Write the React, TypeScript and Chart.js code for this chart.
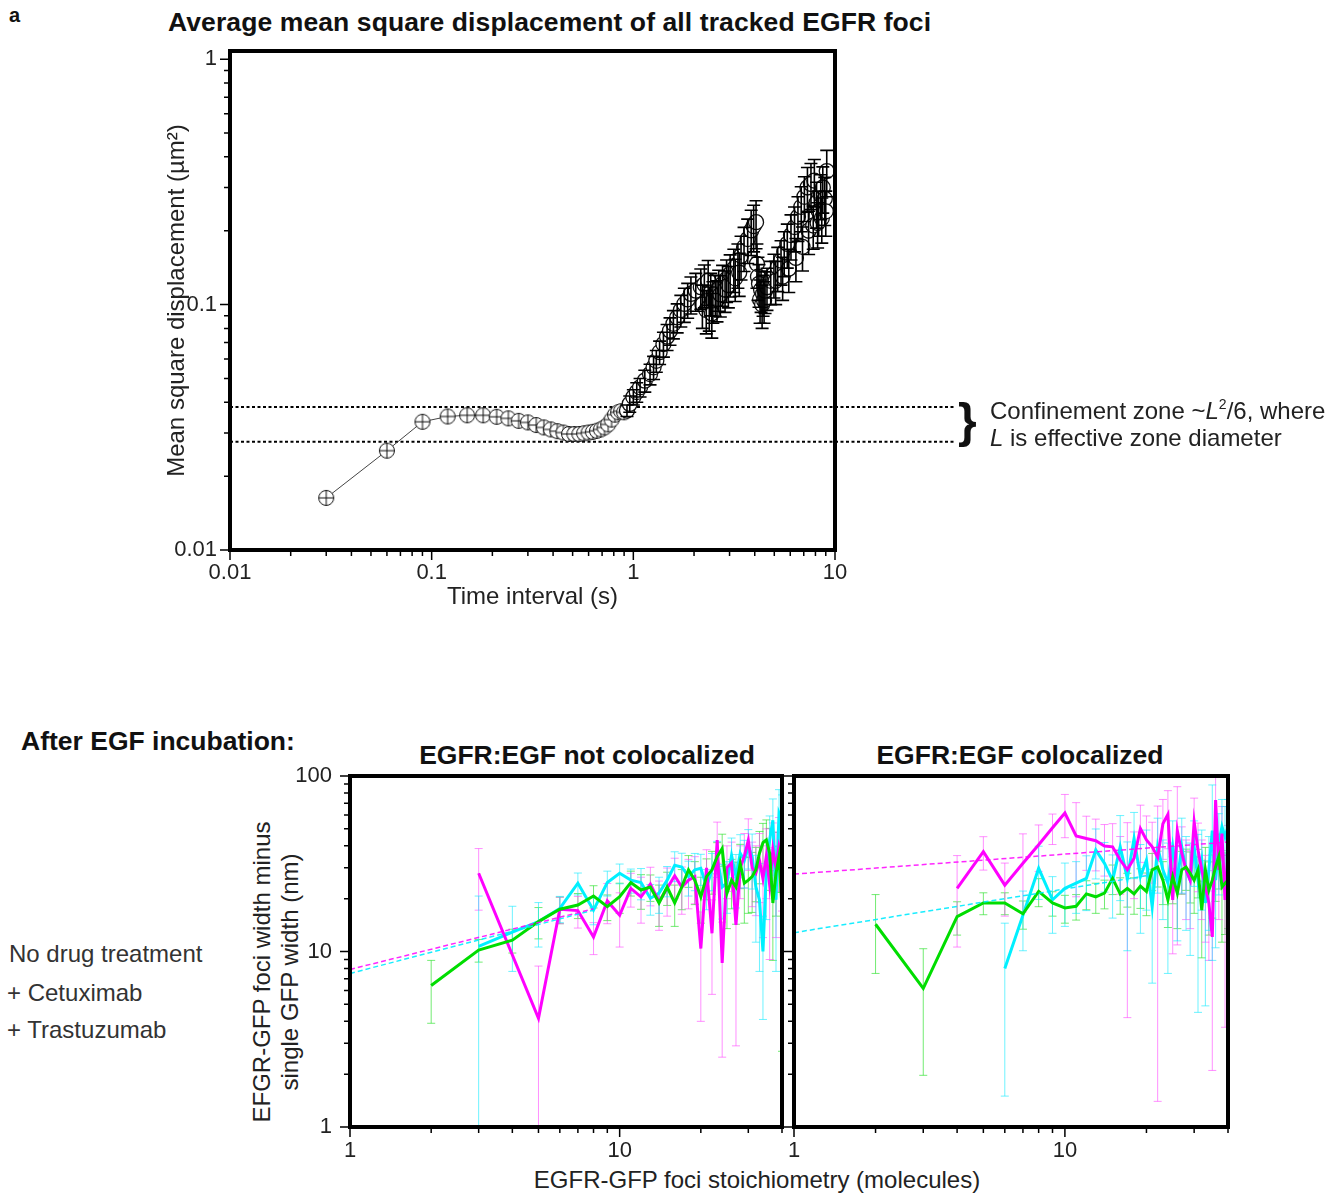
import React, { useEffect, useRef } from 'react';
import { Chart, registerables } from 'chart.js';

Chart.register(...registerables);

const FONT = "'Liberation Sans', Arial, Helvetica, sans-serif";
const TEXT = '#222';

// ---------------- Top panel: mean square displacement ----------------
const TOP_TIME = [
  0.03, 0.06, 0.09, 0.12, 0.15, 0.18, 0.21, 0.24, 0.27, 0.30,
  0.33, 0.36, 0.39, 0.42, 0.45, 0.48, 0.51, 0.54, 0.57, 0.60,
  0.63, 0.66, 0.69, 0.72, 0.75, 0.78, 0.81, 0.84, 0.87, 0.90,
  0.93, 0.96, 1.00, 1.04, 1.08, 1.14, 1.21, 1.26, 1.30, 1.35,
  1.41, 1.47, 1.52, 1.58, 1.65, 1.72, 1.79, 1.86, 1.93, 2.04,
  2.16, 2.20, 2.25, 2.30, 2.35, 2.38, 2.42, 2.45, 2.48, 2.55,
  2.60, 2.65, 2.70, 2.77, 2.85, 2.90, 2.96, 3.02, 3.15, 3.20,
  3.30, 3.35, 3.42, 3.54, 3.69, 3.84, 3.95, 4.06, 4.10, 4.15,
  4.20, 4.25, 4.30, 4.35, 4.40, 4.45, 4.50, 4.60, 4.80, 4.98,
  5.08, 5.20, 5.40, 5.50, 5.60, 5.80, 5.90, 6.05, 6.30, 6.40,
  6.55, 6.80, 6.90, 7.05, 7.30, 7.40, 7.60, 7.80, 7.90, 8.10,
  8.20, 8.30, 8.50, 8.60, 8.70, 8.90, 9.00, 9.10,
];
const TOP_MSD = [
  0.0163, 0.0254, 0.0333, 0.0350, 0.0354, 0.0354, 0.0349, 0.0344, 0.0336, 0.0331,
  0.0323, 0.0316, 0.0310, 0.0305, 0.0301, 0.0297, 0.0297, 0.0297, 0.0299, 0.0301,
  0.0303, 0.0306, 0.0310, 0.0316, 0.0325, 0.0340, 0.0356, 0.0364, 0.0368, 0.0364,
  0.0370, 0.0394, 0.0420, 0.0440, 0.0460, 0.0490, 0.0521, 0.0555, 0.0590, 0.0640,
  0.0691, 0.0740, 0.0783, 0.0835, 0.0887, 0.0950, 0.1006, 0.1050, 0.1106, 0.1140,
  0.1177, 0.1000, 0.1210, 0.0950, 0.1253, 0.0980, 0.1120, 0.0920, 0.1040, 0.1106,
  0.1050, 0.1160, 0.1100, 0.1215, 0.1150, 0.1270, 0.1200, 0.1334, 0.1400, 0.1280,
  0.1466, 0.1350, 0.1580, 0.1714, 0.1850, 0.2005, 0.2090, 0.2168, 0.1466, 0.1300,
  0.1215, 0.1050, 0.1150, 0.1000, 0.1106, 0.1040, 0.1140, 0.1177, 0.1250, 0.1334,
  0.1250, 0.1420, 0.1510, 0.1300, 0.1640, 0.1768, 0.1400, 0.1920, 0.2070, 0.1550,
  0.2280, 0.2500, 0.1720, 0.2750, 0.3000, 0.2000, 0.3100, 0.2100, 0.3200, 0.2600,
  0.2150, 0.2400, 0.2800, 0.2250, 0.3000, 0.2700, 0.2400, 0.3500,
];
const TOP_ERR = [
  0, 0, 0, 0, 0, 0, 0, 0, 0, 0,
  0, 0, 0, 0, 0, 0, 0, 0, 0, 0,
  0, 0, 0, 0, 0, 0, 0, 0, 0, 0,
  0.002, 0.003, 0.003, 0.004, 0.004, 0.005, 0.005, 0.006, 0.006, 0.007,
  0.008, 0.009, 0.010, 0.011, 0.012, 0.014, 0.016, 0.017, 0.019, 0.020,
  0.022, 0.020, 0.024, 0.019, 0.026, 0.020, 0.022, 0.019, 0.020, 0.021,
  0.020, 0.022, 0.021, 0.023, 0.022, 0.025, 0.023, 0.026, 0.028, 0.025,
  0.030, 0.027, 0.032, 0.035, 0.038, 0.042, 0.045, 0.048, 0.030, 0.026,
  0.024, 0.021, 0.022, 0.020, 0.021, 0.020, 0.022, 0.023, 0.025, 0.027,
  0.025, 0.029, 0.031, 0.026, 0.034, 0.036, 0.028, 0.040, 0.043, 0.031,
  0.047, 0.052, 0.035, 0.057, 0.062, 0.040, 0.066, 0.042, 0.070, 0.055,
  0.045, 0.050, 0.058, 0.047, 0.064, 0.060, 0.050, 0.075,
];
const CONFINE_UPPER = 0.0383;
const CONFINE_LOWER = 0.0276;

const TOP_X_TICKS = [
  0.01, 0.02, 0.03, 0.04, 0.05, 0.06, 0.07, 0.08, 0.09,
  0.1, 0.2, 0.3, 0.4, 0.5, 0.6, 0.7, 0.8, 0.9,
  1, 2, 3, 4, 5, 6, 7, 8, 9, 10,
];
const TOP_X_LABEL_VALUES = [0.01, 0.1, 1, 10];
const TOP_X_LABELS = ['0.01', '0.1', '1', '10'];
const TOP_Y_TICKS = [
  0.01, 0.02, 0.03, 0.04, 0.05, 0.06, 0.07, 0.08, 0.09,
  0.1, 0.2, 0.3, 0.4, 0.5, 0.6, 0.7, 0.8, 0.9, 1,
];
const TOP_Y_LABEL_VALUES = [0.01, 0.1, 1];
const TOP_Y_LABELS = ['0.01', '0.1', '1'];

// ---------------- Bottom panels: foci width vs stoichiometry ----------------
const SERIES_NAMES = ['No drug treatment', '+ Cetuximab', '+ Trastuzumab'];
const STOICH = [
  1, 2, 3, 4, 5, 6, 7, 8, 9, 10, 11, 12, 13, 14, 15, 16, 17, 18, 19, 20,
  21, 22, 23, 24, 25, 26, 27, 28, 29, 30, 31, 32, 33, 34, 35, 36, 37, 38, 39, 40,
];

// EGFR:EGF not colocalized
const NOCOLOC_NODRUG = [
  null, 6.4, 10.2, 11.6, 14.8, 17.4, 18.4, 20.7, 18.0, 20.5,
  24.7, 22.4, 23.3, 18.9, 23.3, 18.9, 23.3, 29.2, 25.5, 20.5,
  26.7, 29.2, 34.7, 38.6, 21.5, 25.5, 23.3, 31.8, 24.5, 25.5,
  26.7, 29.2, 36.3, 41.7, 43.2, 36.3, 18.9, 27.9, 34.7, 17.7,
];
const NOCOLOC_NODRUG_ERR = [
  null, 2.5, 1.5, 1.8, 3, 3, 3, 3, 3, 4,
  4, 5, 4, 5, 5, 5, 6, 6, 7, 6,
  7, 8, 7, 8, 8, 8, 9, 9, 10, 9,
  10, 10, 12, 12, 13, 14, 10, 12, 13, 15,
];
const NOCOLOC_CETUX = [
  null, null, 27.9, null, 4.16, 17.4, 17.1, 12.1, 19.4, 16.1,
  22.9, 20.5, 24.2, 19.2, 22.9, 27.0, 23.3, 25.5, 26.7, 10.4,
  30.0, 12.7, 43.2, 8.6, 30.0, 32.0, 14.2, 30.0, 35.0, 43.0,
  30.0, 28.0, 33.0, 26.0, 35.0, 24.0, 38.0, 30.0, 40.0, 35.0,
];
const NOCOLOC_CETUX_ERR = [
  null, null, 10.7, null, 4.1, 3, 3.5, 2.5, 5, 5.5,
  5, 6, 6, 6, 7, 7, 7, 8, 8, 6.4,
  8, 7, 11.4, 6.1, 10, 10, 11.3, 10, 12, 14,
  12, 12, 14, 14, 15, 15, 16, 18, 18, 18,
];
const NOCOLOC_TRAST = [
  null, null, 10.7, 12.9, 14.8, 17.6, 24.5, 17.2, 24.7, 27.9,
  25.5, 24.7, 20.1, 21.5, 25.5, 31.0, 30.3, 26.7, 29.2, 29.8,
  23.3, 29.2, 34.4, 23.3, 24.5, 35.3, 26.7, 36.3, 33.0, 39.5,
  34.7, 23.3, 19.7, 10.0, 29.2, 43.2, 56.0, 19.7, 61.6, 56.0,
];
const NOCOLOC_TRAST_ERR = [
  null, null, 10, 5.2, 4.2, 3, 3.5, 3, 4, 3.6,
  4, 5, 4, 5, 5, 6, 6, 6, 7, 6,
  6, 7, 8, 8, 8, 9, 9, 10, 10, 10,
  12, 12, 12, 5.9, 14, 16, 18, 12, 22, 22,
];
const NOCOLOC_FIT_X = [1, 8];
const NOCOLOC_FIT_CETUX = [7.9, 17.5];
const NOCOLOC_FIT_TRAST = [7.5, 17.2];

// EGFR:EGF colocalized
const COLOC_NODRUG = [
  null, 14.3, 6.17, 15.8, 18.9, 18.9, 16.4, 22.0, 18.9, 17.7,
  18.1, 21.3, 20.5, 21.5, 26.1, 21.3, 22.9, 21.3, 23.6, 22.0,
  29.2, 30.3, 25.5, 19.7, 26.7, 21.5, 29.2, 30.3, 27.9, 25.5,
  29.2, 17.2, 29.2, 22.4, 25.5, 30.3, 34.7, 23.3, 24.5, 25.5,
];
const COLOC_NODRUG_ERR = [
  null, 6.8, 4.2, 3.4, 2.7, 2.7, 3, 4, 3, 3.2,
  3, 4, 4, 4, 5, 5, 5, 5, 6, 6,
  7, 7, 7, 6, 8, 8, 8, 8, 9, 9,
  9, 8, 10, 10, 10, 11, 12, 12, 12, 12,
];
const COLOC_CETUX = [
  null, null, null, 22.9, 37.1, 23.9, 31.8, 40.6, 50.7, 61.5,
  45.5, 44.0, 42.8, 39.9, 39.5, 33.2, 29.2, 34.0, 50.2, 43.2,
  39.5, 34.4, 53.5, 60.5, 19.7, 48.9, 36.3, 29.2, 25.5, 54.8,
  37.9, 29.2, 23.3, 18.9, 12.1, 73.0, 29.2, 47.0, 19.7, 36.3,
];
const COLOC_CETUX_ERR = [
  null, null, null, 12.3, 8, 8, 15, 12, 10, 17,
  25, 15, 14, 13, 14, 12, 25, 14, 18, 16,
  15, 33, 20, 22, 10, 38, 15, 14, 12, 20,
  16, 14, 12, 10, 10, 30, 14, 20, 16, 16,
];
const COLOC_TRAST = [
  null, null, null, null, null, 8.0, 16.1, 29.8, 19.7, 22.9,
  24.5, 26.1, 37.9, 31.8, 25.5, 39.5, 26.1, 44.0, 26.7, 33.2,
  18.0, 39.5, 29.2, 24.5, 39.5, 25.5, 39.5, 29.2, 25.5, 39.5,
  25.5, 33.2, 18.9, 29.2, 48.9, 25.5, 41.0, 51.5, 45.0, 51.5,
];
const COLOC_TRAST_ERR = [
  null, null, null, null, null, 6.5, 6, 10, 7, 9,
  8, 9, 12, 10, 10, 20, 16, 18, 14, 16,
  11.4, 18, 14, 17, 16, 14, 18, 16, 16, 16,
  21, 16, 14, 16, 40, 15, 20, 22, 22, 22,
];
const COLOC_FIT_CETUX_X = [1, 40];
const COLOC_FIT_CETUX = [27.6, 42.0];
const COLOC_FIT_TRAST_X = [1, 20];
const COLOC_FIT_TRAST = [12.8, 27.0];

const BOT_X_TICKS = [1, 2, 3, 4, 5, 6, 7, 8, 9, 10, 20, 30, 40];
const BOT_X_LABEL_VALUES = [1, 10];
const BOT_X_LABELS = ['1', '10'];
const BOT_Y_TICKS = [1, 2, 3, 4, 5, 6, 7, 8, 9, 10, 20, 30, 40, 50, 60, 70, 80, 90, 100];
const BOT_Y_LABEL_VALUES = [1, 10, 100];
const BOT_Y_LABELS = ['1', '10', '100'];

const GREEN = '#00dd00';
const MAGENTA = '#ff00ff';
const CYAN = '#00f0ff';
const GREEN_ERR = 'rgba(40,225,40,0.65)';
const MAGENTA_ERR = 'rgba(255,70,255,0.6)';
const CYAN_ERR = 'rgba(30,235,255,0.65)';

// ---------------- helpers ----------------
const near = (a: number, b: number) => Math.abs(a - b) <= Math.abs(b) * 1e-6;
const labelFor = (v: number, values: number[], labels: string[]) => {
  const i = values.findIndex((m) => near(v, m));
  return i >= 0 ? labels[i] : '';
};

function drawErrorBars(chart: any, capHalf: number, width: number) {
  const { ctx, chartArea: a } = chart;
  const xs = chart.scales.x;
  const ys = chart.scales.y;
  ctx.save();
  ctx.beginPath();
  ctx.rect(a.left, a.top, a.right - a.left, a.bottom - a.top);
  ctx.clip();
  chart.data.datasets.forEach((ds: any) => {
    if (!ds.errors) return;
    ctx.strokeStyle = ds.errColor;
    ctx.lineWidth = width;
    ds.data.forEach((p: any, i: number) => {
      const e = ds.errors[i];
      if (!e) return;
      const px = xs.getPixelForValue(p.x);
      const hi = ys.getPixelForValue(p.y + e);
      const lowV = p.y - e;
      const lo = lowV > 0 ? ys.getPixelForValue(lowV) : a.bottom + 6;
      ctx.beginPath();
      ctx.moveTo(px, hi);
      ctx.lineTo(px, lo);
      ctx.moveTo(px - capHalf, hi);
      ctx.lineTo(px + capHalf, hi);
      if (lowV > 0) {
        ctx.moveTo(px - capHalf, lo);
        ctx.lineTo(px + capHalf, lo);
      }
      ctx.stroke();
    });
  });
  ctx.restore();
}

function drawTicksAndBox(chart: any, xMajor: number[], yMajor: number[]) {
  const { ctx, chartArea: a } = chart;
  const xs = chart.scales.x;
  const ys = chart.scales.y;
  ctx.save();
  ctx.strokeStyle = '#000';
  ctx.lineWidth = 1.5;
  ctx.beginPath();
  xs.ticks.forEach((t: any) => {
    const p = xs.getPixelForValue(t.value);
    const len = xMajor.some((m) => near(t.value, m)) ? 8 : 4;
    ctx.moveTo(p, a.bottom + 2);
    ctx.lineTo(p, a.bottom + 2 + len);
  });
  ys.ticks.forEach((t: any) => {
    const p = ys.getPixelForValue(t.value);
    const len = yMajor.some((m) => near(t.value, m)) ? 8 : 4;
    ctx.moveTo(a.left - 2 - len, p);
    ctx.lineTo(a.left - 2, p);
  });
  ctx.stroke();
  ctx.lineWidth = 4;
  ctx.strokeRect(a.left, a.top, a.right - a.left, a.bottom - a.top);
  ctx.restore();
}

function logAxis(o: any) {
  return {
    type: 'logarithmic',
    position: o.position,
    min: o.min,
    max: o.max,
    grid: { display: false, drawTicks: false },
    border: { display: false },
    afterBuildTicks: (s: any) => {
      s.ticks = o.ticks.map((v: number) => ({ value: v }));
    },
    afterFit: (s: any) => {
      if (o.position === 'bottom') s.height = o.size;
      else s.width = o.size;
      s.paddingLeft = 0;
      s.paddingRight = 0;
      s.paddingTop = 0;
      s.paddingBottom = 0;
    },
    ticks: {
      autoSkip: false,
      maxRotation: 0,
      minRotation: 0,
      padding: o.padding,
      color: TEXT,
      font: { family: FONT, size: 22 },
      callback: (v: number) => (o.labels ? labelFor(v, o.labelValues, o.labels) : ''),
    },
    title: o.title
      ? {
          display: true,
          text: o.title,
          color: TEXT,
          padding: 0,
          font: { family: FONT, size: 24, lineHeight: 1.2 },
        }
      : { display: false },
  };
}

function seriesDataset(label: string, values: any[], errors: any[], color: string, errColor: string) {
  const data: any[] = [];
  const errs: number[] = [];
  STOICH.forEach((n, i) => {
    if (values[i] != null) {
      data.push({ x: n, y: values[i] });
      errs.push(errors[i] || 0);
    }
  });
  return {
    label,
    data,
    errors: errs,
    errColor,
    borderColor: color,
    backgroundColor: color,
    borderWidth: 3,
    pointRadius: 0,
    tension: 0,
    fill: false,
  };
}

function fitDataset(label: string, xs: number[], ys: number[], color: string) {
  return {
    label,
    data: xs.map((x, i) => ({ x, y: ys[i] })),
    borderColor: color,
    borderWidth: 1.5,
    borderDash: [5, 3],
    pointRadius: 0,
    fill: false,
  };
}

function bottomChart(canvas: HTMLCanvasElement, datasets: any[], showYLabels: boolean, yWidth: number, padRight: number) {
  return new Chart(canvas, {
    type: 'line',
    data: { datasets },
    options: {
      responsive: false,
      animation: false,
      devicePixelRatio: 1,
      layout: { padding: { left: 0, top: 36, right: padRight, bottom: 0 } },
      plugins: { legend: { display: false }, tooltip: { enabled: false }, title: { display: false } },
      scales: {
        x: logAxis({
          position: 'bottom', min: 1, max: 40, ticks: BOT_X_TICKS,
          labelValues: BOT_X_LABEL_VALUES, labels: BOT_X_LABELS, size: 33, padding: 11,
        }),
        y: logAxis({
          position: 'left', min: 1, max: 100, ticks: BOT_Y_TICKS,
          labelValues: BOT_Y_LABEL_VALUES, labels: showYLabels ? BOT_Y_LABELS : null,
          size: yWidth, padding: 18,
        }),
      },
    } as any,
    plugins: [
      {
        id: 'decor',
        beforeDatasetsDraw: (chart: any) => drawErrorBars(chart, 4, 1),
        afterDatasetsDraw: (chart: any) => drawTicksAndBox(chart, BOT_X_LABEL_VALUES, BOT_Y_LABEL_VALUES),
      },
    ],
  } as any);
}

export default function App() {
  const topRef = useRef<HTMLCanvasElement>(null);
  const leftRef = useRef<HTMLCanvasElement>(null);
  const rightRef = useRef<HTMLCanvasElement>(null);

  useEffect(() => {
    Chart.defaults.font.family = FONT;

    // circle with a cross inside, for the short-lag points
    const plus = document.createElement('canvas');
    plus.width = 18;
    plus.height = 18;
    const pc = plus.getContext('2d') as CanvasRenderingContext2D;
    pc.beginPath();
    pc.arc(9, 9, 7.5, 0, Math.PI * 2);
    pc.fillStyle = '#fff';
    pc.fill();
    pc.strokeStyle = '#111';
    pc.lineWidth = 1;
    pc.stroke();
    pc.beginPath();
    pc.moveTo(9, 1.5);
    pc.lineTo(9, 16.5);
    pc.moveTo(1.5, 9);
    pc.lineTo(16.5, 9);
    pc.stroke();

    const top = new Chart(topRef.current as HTMLCanvasElement, {
      type: 'line',
      data: {
        datasets: [
          {
            label: 'Average MSD',
            data: TOP_TIME.map((t, i) => ({ x: t, y: TOP_MSD[i] })),
            errors: TOP_ERR,
            errColor: '#000',
            borderColor: '#444',
            borderWidth: 1,
            pointRadius: 7.5,
            pointBackgroundColor: '#fff',
            pointBorderColor: '#111',
            pointBorderWidth: 1.3,
            pointStyle: (c: any) => (TOP_ERR[c.dataIndex] === 0 ? plus : 'circle'),
            tension: 0,
            fill: false,
          },
        ],
      },
      options: {
        responsive: false,
        animation: false,
        devicePixelRatio: 1,
        layout: { padding: { left: 3, top: 21, right: 145, bottom: 18 } },
        plugins: { legend: { display: false }, tooltip: { enabled: false }, title: { display: false } },
        scales: {
          x: logAxis({
            position: 'bottom', min: 0.01, max: 10, ticks: TOP_X_TICKS,
            labelValues: TOP_X_LABEL_VALUES, labels: TOP_X_LABELS, size: 62, padding: 10,
            title: 'Time interval (s)',
          }),
          y: logAxis({
            position: 'left', min: 0.01, max: 1.08, ticks: TOP_Y_TICKS,
            labelValues: TOP_Y_LABEL_VALUES, labels: TOP_Y_LABELS, size: 67, padding: 13,
            title: 'Mean square displacement (\u00b5m\u00b2)',
          }),
        },
      } as any,
      plugins: [
        {
          id: 'decor',
          beforeDatasetsDraw: (chart: any) => {
            const { ctx, chartArea: a } = chart;
            const ys = chart.scales.y;
            ctx.save();
            ctx.strokeStyle = '#000';
            ctx.lineWidth = 2;
            ctx.setLineDash([3, 2.5]);
            [CONFINE_UPPER, CONFINE_LOWER].forEach((v) => {
              const p = ys.getPixelForValue(v);
              ctx.beginPath();
              ctx.moveTo(a.left, p);
              ctx.lineTo(795, p);
              ctx.stroke();
            });
            ctx.restore();
          },
          afterDatasetsDraw: (chart: any) => {
            drawErrorBars(chart, 6.5, 1.6);
            drawTicksAndBox(chart, TOP_X_LABEL_VALUES, TOP_Y_LABEL_VALUES);
          },
        },
      ],
    } as any);

    const left = bottomChart(
      leftRef.current as HTMLCanvasElement,
      [
        fitDataset('Cetuximab fit', NOCOLOC_FIT_X, NOCOLOC_FIT_CETUX, 'rgba(255,0,255,0.85)'),
        fitDataset('Trastuzumab fit', NOCOLOC_FIT_X, NOCOLOC_FIT_TRAST, 'rgba(0,235,255,0.9)'),
        seriesDataset(SERIES_NAMES[0], NOCOLOC_NODRUG, NOCOLOC_NODRUG_ERR, GREEN, GREEN_ERR),
        seriesDataset(SERIES_NAMES[1], NOCOLOC_CETUX, NOCOLOC_CETUX_ERR, MAGENTA, MAGENTA_ERR),
        seriesDataset(SERIES_NAMES[2], NOCOLOC_TRAST, NOCOLOC_TRAST_ERR, CYAN, CYAN_ERR),
      ],
      true,
      114,
      14,
    );

    const right = bottomChart(
      rightRef.current as HTMLCanvasElement,
      [
        fitDataset('Cetuximab fit', COLOC_FIT_CETUX_X, COLOC_FIT_CETUX, 'rgba(255,0,255,0.85)'),
        fitDataset('Trastuzumab fit', COLOC_FIT_TRAST_X, COLOC_FIT_TRAST, 'rgba(0,235,255,0.9)'),
        seriesDataset(SERIES_NAMES[0], COLOC_NODRUG, COLOC_NODRUG_ERR, GREEN, GREEN_ERR),
        seriesDataset(SERIES_NAMES[1], COLOC_CETUX, COLOC_CETUX_ERR, MAGENTA, MAGENTA_ERR),
        seriesDataset(SERIES_NAMES[2], COLOC_TRAST, COLOC_TRAST_ERR, CYAN, CYAN_ERR),
      ],
      false,
      14,
      12,
    );

    return () => {
      top.destroy();
      left.destroy();
      right.destroy();
    };
  }, []);

  const abs = (left: number, top: number, extra: any = {}) => ({
    position: 'absolute' as const,
    left,
    top,
    whiteSpace: 'nowrap' as const,
    ...extra,
  });
  const bold = { fontWeight: 'bold', fontSize: 26.5, lineHeight: '30px', color: '#111' };
  const reg = { fontSize: 24, lineHeight: '24px' };

  return (
    <div
      style={{
        position: 'absolute',
        left: 0,
        top: 0,
        width: 1338,
        height: 1194,
        background: '#fff',
        overflow: 'hidden',
        fontFamily: FONT,
        color: TEXT,
      }}
    >
      <div style={abs(9, 3, { fontWeight: 'bold', fontSize: 20, lineHeight: '24px', color: '#111' })}>a</div>
      <div style={abs(168, 7, { ...bold, letterSpacing: 0.1 })}>
        Average mean square displacement of all tracked EGFR foci
      </div>

      <canvas
        ref={topRef}
        width={820}
        height={600}
        style={{ position: 'absolute', left: 160, top: 30, width: 820, height: 600 }}
      />

      <div style={abs(958, 397, { fontWeight: 'bold', fontSize: 48, lineHeight: '48px', color: '#111' })}>{'}'}</div>
      <div style={abs(990, 397, { fontSize: 24, lineHeight: '27px' })}>
        <div style={{ height: 27 }}>
          Confinement zone ~<i>L</i>
          <span style={{ fontSize: 14, lineHeight: 0, position: 'relative', top: -10 }}>2</span>/6, where
        </div>
        <div style={{ height: 27 }}>
          <i>L</i> is effective zone diameter
        </div>
      </div>

      <div style={abs(21, 726, bold)}>After EGF incubation:</div>
      <div style={abs(287, 740, { ...bold, width: 600, textAlign: 'center' })}>EGFR:EGF not colocalized</div>
      <div style={abs(720, 740, { ...bold, width: 600, textAlign: 'center' })}>EGFR:EGF colocalized</div>

      <div style={abs(9, 942, { ...reg, color: '#333' })}>{SERIES_NAMES[0]}</div>
      <div style={abs(7, 981, { ...reg, color: '#333' })}>{SERIES_NAMES[1]}</div>
      <div style={abs(7, 1018, { ...reg, color: '#333' })}>{SERIES_NAMES[2]}</div>

      <div
        style={abs(76, 944, {
          width: 400,
          height: 56,
          fontSize: 24,
          lineHeight: '28px',
          textAlign: 'center',
          transform: 'rotate(-90deg)',
          transformOrigin: '200px 28px',
        })}
      >
        EFGR-GFP foci width minus
        <br />
        single GFP width (nm)
      </div>

      <canvas
        ref={leftRef}
        width={560}
        height={420}
        style={{ position: 'absolute', left: 236, top: 740, width: 560, height: 420 }}
      />
      <canvas
        ref={rightRef}
        width={460}
        height={420}
        style={{ position: 'absolute', left: 780, top: 740, width: 460, height: 420 }}
      />

      <div style={abs(457, 1168, { ...reg, width: 600, textAlign: 'center' })}>
        EGFR-GFP foci stoichiometry (molecules)
      </div>
    </div>
  );
}
